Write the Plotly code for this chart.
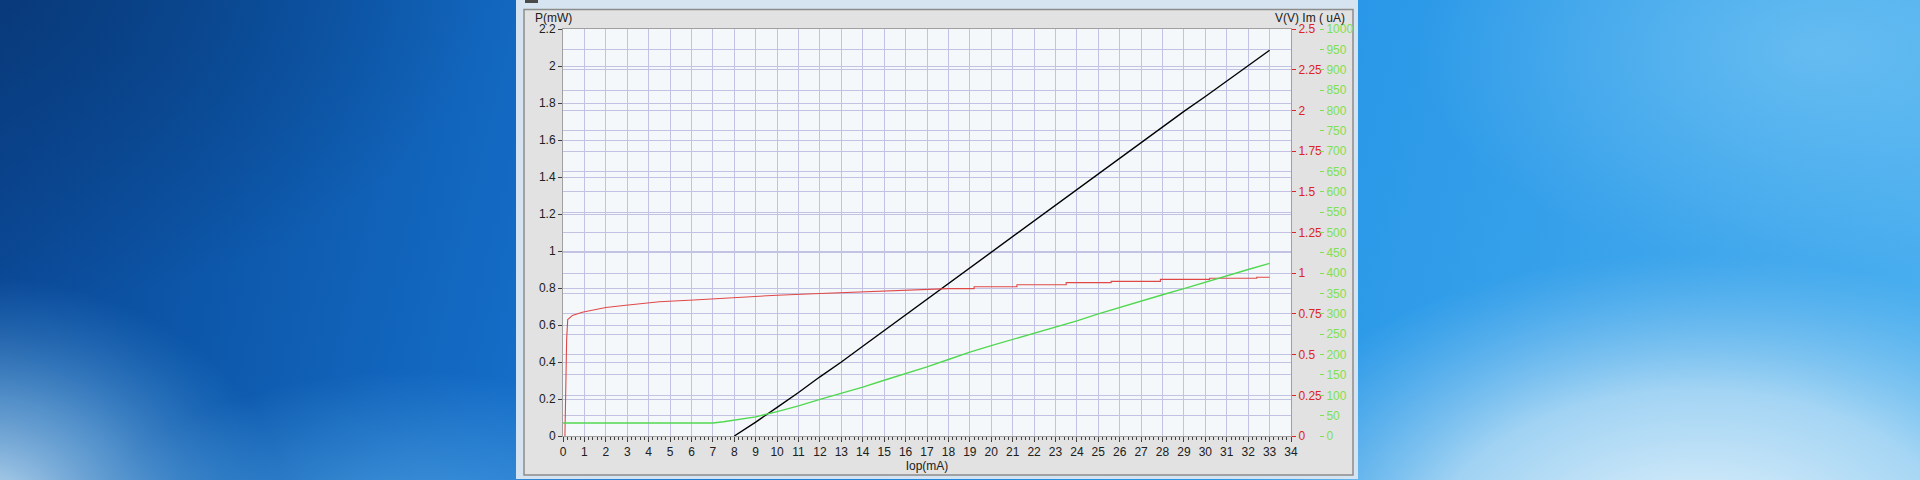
import base64
import plotly.graph_objects as go

# ---------------- data ----------------
# Black: optical power P (mW) vs Iop (mA)
p_iop = [8, 9, 10, 11, 12, 13, 14, 15, 16, 17, 18, 19, 20, 21, 22, 23, 24, 25,
         26, 27, 28, 29, 30, 31, 32, 33]
p_mw = [0.0, 0.075, 0.155, 0.235, 0.32, 0.40, 0.485, 0.57, 0.655, 0.74, 0.825,
        0.905, 0.99, 1.075, 1.16, 1.245, 1.33, 1.415, 1.50, 1.585, 1.67, 1.755,
        1.835, 1.92, 2.00, 2.085]

# Red: forward voltage V (V) vs Iop (mA) (steps written as repeated x)
v_iop = [0.09, 0.125, 0.17, 0.22, 0.44, 0.9, 1.375, 2.0, 2.94, 3.56, 4.5, 6.1,
         8, 10, 12, 14, 16, 18, 19.2, 19.2, 21.2, 21.2, 23.5, 23.5, 25.6, 25.6,
         27.9, 27.9, 30.2, 30.2, 32.4, 32.4, 33.0]
v_v = [0.0, 0.352, 0.592, 0.715, 0.741, 0.76, 0.772, 0.789, 0.803, 0.813, 0.825,
       0.835, 0.85, 0.865, 0.875, 0.885, 0.895, 0.905, 0.905, 0.917, 0.917, 0.929,
       0.929, 0.942, 0.942, 0.95, 0.95, 0.962, 0.962, 0.969, 0.969, 0.975, 0.975]

# Green: monitor current Im (uA) vs Iop (mA)
im_iop = [0, 7, 7.5, 8, 8.5, 9, 10, 11, 12, 13, 14, 15, 16, 17, 18, 19, 20, 21,
          22, 23, 24, 25, 26, 27, 28, 29, 30, 31, 32, 33]
im_ua = [32, 32, 35, 39, 43, 47, 60, 74, 90, 105, 120, 137, 153, 170, 188, 206,
         222, 237, 252, 268, 283, 300, 316, 332, 347, 362, 378, 393, 409, 424]

# tick labels
x_ticks = list(range(0, 35))
p_ticks = [0, 0.2, 0.4, 0.6, 0.8, 1, 1.2, 1.4, 1.6, 1.8, 2, 2.2]
p_labels = ["0", "0.2", "0.4", "0.6", "0.8", "1", "1.2", "1.4", "1.6", "1.8", "2", "2.2"]
v_ticks = [0, 0.25, 0.5, 0.75, 1, 1.25, 1.5, 1.75, 2, 2.25, 2.5]
v_labels = ["0", "0.25", "0.5", "0.75", "1", "1.25", "1.5", "1.75", "2", "2.25", "2.5"]
im_ticks = list(range(0, 1001, 50))

# ---------------- styling ----------------
W, H = 1920, 480
FONT = "Liberation Sans"
GRID = "#c2c2e2"
RED_TXT = "#dc2424"
GREEN_TXT = "#80e050"
FS = 12

# desktop background as an SVG gradient image
svg = f'''<svg xmlns="http://www.w3.org/2000/svg" width="{W}" height="{H}" viewBox="0 0 {W} {H}" preserveAspectRatio="none">
<defs>
<linearGradient id="base" gradientUnits="userSpaceOnUse" x1="0" y1="0" x2="1920" y2="480">
<stop offset="0" stop-color="#0a4490"/>
<stop offset="0.15" stop-color="#0d58ab"/>
<stop offset="0.35" stop-color="#1774d0"/>
<stop offset="0.6" stop-color="#2393e6"/>
<stop offset="1" stop-color="#4cb0ef"/>
</linearGradient>
<radialGradient id="tl" gradientUnits="userSpaceOnUse" cx="0" cy="0" r="380" gradientTransform="scale(1.3 0.8)">
<stop offset="0" stop-color="#07346e" stop-opacity="0.7"/>
<stop offset="1" stop-color="#07346e" stop-opacity="0"/>
</radialGradient>
<radialGradient id="bl" gradientUnits="userSpaceOnUse" cx="0" cy="500" r="300" gradientTransform="translate(0 500) scale(1 0.75) translate(0 -500)">
<stop offset="0" stop-color="#d8ecf8" stop-opacity="0.95"/>
<stop offset="0.5" stop-color="#8cc4ec" stop-opacity="0.55"/>
<stop offset="1" stop-color="#4d9fe0" stop-opacity="0"/>
</radialGradient>
<radialGradient id="bm" gradientUnits="userSpaceOnUse" cx="420" cy="520" r="260" gradientTransform="translate(420 520) scale(1.2 0.6) translate(-420 -520)">
<stop offset="0" stop-color="#5eb0ea" stop-opacity="0.7"/>
<stop offset="1" stop-color="#5eb0ea" stop-opacity="0"/>
</radialGradient>
<radialGradient id="br" gradientUnits="userSpaceOnUse" cx="1680" cy="540" r="480" gradientTransform="translate(1680 540) scale(1 0.6) translate(-1680 -540)">
<stop offset="0" stop-color="#f0f8fd" stop-opacity="1"/>
<stop offset="0.55" stop-color="#c4e3f6" stop-opacity="0.75"/>
<stop offset="1" stop-color="#8cc8f0" stop-opacity="0"/>
</radialGradient>
<radialGradient id="tr" gradientUnits="userSpaceOnUse" cx="1800" cy="60" r="300" gradientTransform="translate(1800 60) scale(1.3 0.7) translate(-1800 -60)">
<stop offset="0" stop-color="#78c6f3" stop-opacity="0.65"/>
<stop offset="1" stop-color="#78c6f3" stop-opacity="0"/>
</radialGradient>
</defs>
<rect width="{W}" height="{H}" fill="url(#base)"/>
<rect width="{W}" height="{H}" fill="url(#tl)"/>
<rect width="{W}" height="{H}" fill="url(#tr)"/>
<rect width="{W}" height="{H}" fill="url(#bm)"/>
<rect width="{W}" height="{H}" fill="url(#bl)"/>
<rect width="{W}" height="{H}" fill="url(#br)"/>
</svg>'''
bg_uri = "data:image/svg+xml;base64," + base64.b64encode(svg.encode()).decode()

fig = go.Figure()

fig.add_trace(go.Scatter(x=im_iop, y=im_ua, mode="lines", yaxis="y3",
                         line=dict(color="#50d850", width=1.4), showlegend=False))
fig.add_trace(go.Scatter(x=v_iop, y=v_v, mode="lines", yaxis="y2",
                         line=dict(color="#e04848", width=1.1), showlegend=False))
fig.add_trace(go.Scatter(x=p_iop, y=p_mw, mode="lines", yaxis="y",
                         line=dict(color="#000000", width=1.4), showlegend=False))


def px(x):
    return x / W


def py(y):
    return 1 - y / H


x0, x1 = 563, 1291
y0, y1 = 29, 436

tickfont = dict(family=FONT, size=FS, color="#202020")

fig.update_layout(
    width=W, height=H, autosize=False,
    margin=dict(l=0, r=0, t=0, b=0, pad=0, autoexpand=False),
    paper_bgcolor="#2a8ee0",
    plot_bgcolor="#f5f8fa",
    font=dict(family=FONT, size=FS, color="#202020"),
    xaxis=dict(
        domain=[px(x0), px(x1)], range=[0, 34], tickvals=x_ticks,
        ticks="outside", ticklen=5, tickcolor="#404040", tickwidth=1,
        minor=dict(dtick=0.2, ticks="outside", ticklen=3, tickcolor="#404040", showgrid=False),
        showgrid=True, gridcolor=GRID, gridwidth=1.2,
        showline=True, linecolor="#a0a0a0", mirror=True,
        zeroline=False, tickfont=tickfont, automargin=False,
        title=dict(text="Iop(mA)", font=dict(family=FONT, size=FS, color="#202020"), standoff=3),
    ),
    yaxis=dict(
        domain=[py(y1), py(y0)], range=[0, 2.2], tickvals=p_ticks, ticktext=p_labels,
        ticks="outside", ticklen=4, tickcolor="#404040",
        showgrid=True, gridcolor=GRID, gridwidth=1.2,
        showline=True, linecolor="#a0a0a0", mirror=True,
        zeroline=False, tickfont=tickfont, automargin=False,
    ),
    yaxis2=dict(
        overlaying="y", side="right", anchor="x", range=[0, 2.5],
        tickvals=v_ticks, ticktext=v_labels,
        ticks="outside", ticklen=4, tickcolor=RED_TXT,
        showgrid=True, gridcolor=GRID, gridwidth=1.2, zeroline=False,
        showline=False, tickfont=dict(family=FONT, size=FS, color=RED_TXT), automargin=False,
    ),
    yaxis3=dict(
        overlaying="y", side="right", anchor="free", position=px(1319), range=[0, 1000],
        tickvals=im_ticks,
        ticks="outside", ticklen=4, tickcolor=GREEN_TXT,
        showgrid=True, gridcolor=GRID, gridwidth=1.2, zeroline=False,
        showline=False, tickfont=dict(family=FONT, size=FS, color=GREEN_TXT), automargin=False,
    ),
    images=[dict(source=bg_uri, xref="paper", yref="paper", x=-0.01, y=1.03, sizex=1.02, sizey=1.06,
                 sizing="stretch", xanchor="left", yanchor="top", layer="below")],
    shapes=[
        # outer window frame
        dict(type="rect", xref="paper", yref="paper", x0=px(516), x1=px(1358), y0=py(479), y1=py(-2),
             fillcolor="#d6e4f1", line=dict(width=0), layer="below"),
        # inner gray panel
        dict(type="rect", xref="paper", yref="paper", x0=px(524), x1=px(1353), y0=py(475), y1=py(9.5),
             fillcolor="#e2e2e2", line=dict(color="#8c8c8c", width=1.5), layer="below"),
        # plot area background
        dict(type="rect", xref="paper", yref="paper", x0=px(x0), x1=px(x1), y0=py(y1), y1=py(y0),
             fillcolor="#f5f8fa", line=dict(width=0), layer="below"),
        # window icon in title bar
        dict(type="rect", xref="paper", yref="paper", x0=px(525), x1=px(538), y0=py(3), y1=py(-2),
             fillcolor="#4a4a4a", line=dict(width=0), layer="below"),
    ],
    annotations=[
        dict(text="P(mW)", xref="paper", yref="paper", x=px(533), y=py(17.5),
             xanchor="left", yanchor="middle", showarrow=False,
             font=dict(family=FONT, size=FS, color="#202020")),
        dict(text="V(V) Im ( uA)", xref="paper", yref="paper", x=px(1347), y=py(17.5),
             xanchor="right", yanchor="middle", showarrow=False,
             font=dict(family=FONT, size=FS, color="#202020")),
    ],
)

fig.write_html("out.html", config={"displayModeBar": False},
               post_script="document.body.style.margin='0';document.body.style.overflow='hidden';")
